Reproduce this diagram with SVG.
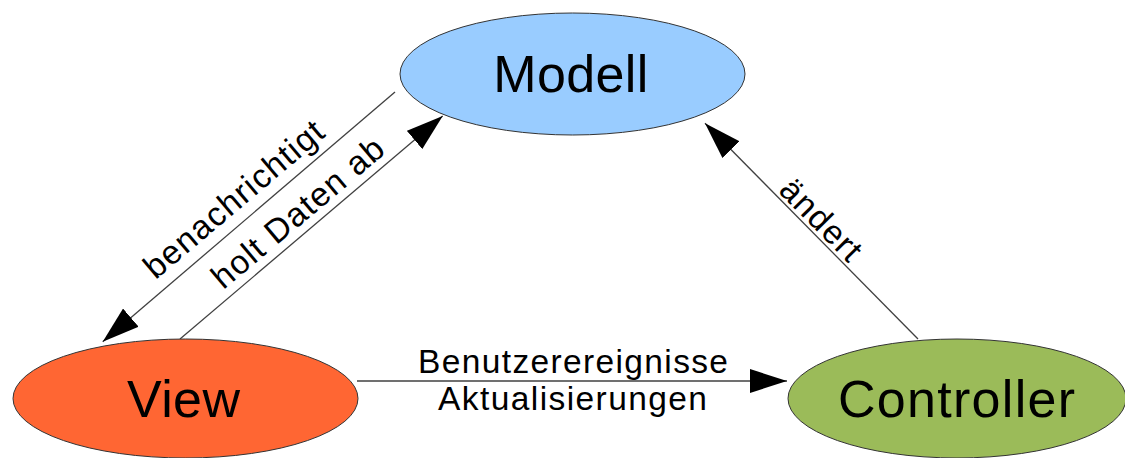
<svg xmlns="http://www.w3.org/2000/svg" width="1125" height="458" viewBox="0 0 1125 458">
<style>
.node{stroke:#333;stroke-width:1}
.big{font-family:"Liberation Sans",Arial,sans-serif;font-size:52px;fill:#000;text-anchor:middle}
.lbl{font-family:"Liberation Sans",Arial,sans-serif;font-size:33.5px;fill:#000;text-anchor:middle;letter-spacing:1.2px}
.edge{stroke:#404040;stroke-width:1.3;fill:none}
</style>
<defs>
<marker id="arr" markerUnits="userSpaceOnUse" markerWidth="37" markerHeight="24" refX="37" refY="12" orient="auto" viewBox="0 0 37 24">
<path d="M0,0 L37,12 L0,24 Z" fill="#000"/>
</marker>
</defs>
<rect width="1125" height="458" fill="#fff"/>
<g id="connectors">
<line class="edge" x1="395" y1="92" x2="102.7" y2="341.7" marker-end="url(#arr)"/>
<line class="edge" x1="180" y1="339" x2="442.7" y2="116" marker-end="url(#arr)"/>
<line class="edge" x1="918" y1="339" x2="705" y2="123.3" marker-end="url(#arr)"/>
<line class="edge" x1="357" y1="381" x2="787" y2="381" marker-end="url(#arr)"/>
<text class="lbl" transform="translate(241.5,207.5) rotate(-40.2)">benachrichtigt</text>
<text class="lbl" transform="translate(305.5,221) rotate(-40.1)">holt Daten ab</text>
<text class="lbl" transform="translate(813.5,228) rotate(45.4)">ändert</text>
<text class="lbl" x="573" y="372.5" textLength="310" style="letter-spacing:0">Benutzerereignisse</text>
<text class="lbl" x="572.5" y="410" textLength="269" style="letter-spacing:0">Aktualisierungen</text>
</g>
<g id="modell">
<ellipse class="node" cx="572.5" cy="74" rx="172.5" ry="61" fill="#99ccff"/>
<text class="big" x="570.8" y="92" textLength="155">Modell</text>
</g>
<g id="view">
<ellipse class="node" cx="185.5" cy="398.5" rx="172.5" ry="59.5" fill="#ff6633"/>
<text class="big" x="183.5" y="417" textLength="113">View</text>
</g>
<g id="controller">
<ellipse class="node" cx="957" cy="398.5" rx="169" ry="59.5" fill="#9bbb59"/>
<text class="big" x="956.5" y="417" textLength="237">Controller</text>
</g>
</svg>
